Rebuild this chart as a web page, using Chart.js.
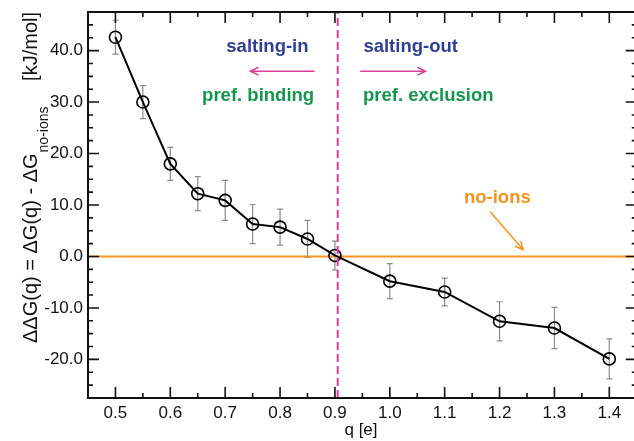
<!DOCTYPE html>
<html>
<head>
<meta charset="utf-8">
<script src="https://cdn.jsdelivr.net/npm/chart.js@4.4.0/dist/chart.umd.min.js"></script>
<style>
html, body { margin: 0; padding: 0; background: #fff; }
</style>
</head>
<body>
<canvas id="myChart" width="634" height="441"></canvas>
<script>
// charge q [e] and free energy difference [kJ/mol]
var charges = [0.5, 0.55, 0.6, 0.65, 0.7, 0.75, 0.8, 0.85, 0.9, 1.0, 1.1, 1.2, 1.3, 1.4];
var ddG = [42.6, 30.0, 18.0, 12.2, 10.9, 6.3, 5.7, 3.4, 0.2, -4.8, -6.9, -12.6, -13.9, -19.9];
var ddGErr = [3.3, 3.2, 3.2, 3.3, 3.9, 3.8, 3.5, 3.6, 2.8, 3.4, 2.7, 3.8, 4.0, 3.9];

var xTicks = [0.5, 0.6, 0.7, 0.8, 0.9, 1.0, 1.1, 1.2, 1.3, 1.4];
var yTicks = [-20, -10, 0, 10, 20, 30, 40];
var xRange = [0.45, 1.45];   // plot frame
var xView = [0.45, 1.445];   // part of the frame that fits in the picture
var yRange = [-27.5, 47.5];
var qCross = 0.905;

var FONT = '"Liberation Sans", Arial, sans-serif';
var BLUE = '#2f3f98', GREEN = '#13984b', PINK = '#de3c97', ORANGE = '#f7941d';

var errorBars = {
    id: 'errorBars',
    beforeDatasetsDraw: function (chart) {
        var x = chart.scales.x, y = chart.scales.y, c = chart.ctx;
        c.save();
        c.strokeStyle = '#8c8c8c';
        c.lineWidth = 1.2;
        charges.forEach(function (q, i) {
            var px = x.getPixelForValue(q);
            var top = y.getPixelForValue(ddG[i] + ddGErr[i]);
            var bot = y.getPixelForValue(ddG[i] - ddGErr[i]);
            c.beginPath();
            c.moveTo(px, top); c.lineTo(px, bot);
            c.moveTo(px - 3, top); c.lineTo(px + 3, top);
            c.moveTo(px - 3, bot); c.lineTo(px + 3, bot);
            c.stroke();
        });
        c.restore();
    }
};

function arrow(c, x1, y1, x2, y2, color) {
    var a = Math.atan2(y2 - y1, x2 - x1), h = 9, w = 0.45;
    c.strokeStyle = color;
    c.lineWidth = 1.5;
    c.beginPath();
    c.moveTo(x1, y1); c.lineTo(x2, y2);
    c.moveTo(x2 - h * Math.cos(a - w), y2 - h * Math.sin(a - w));
    c.lineTo(x2, y2);
    c.lineTo(x2 - h * Math.cos(a + w), y2 - h * Math.sin(a + w));
    c.stroke();
}

var notes = {
    id: 'notes',
    afterDatasetsDraw: function (chart) {
        var x = chart.scales.x, y = chart.scales.y, c = chart.ctx;
        function px(v) { return x.getPixelForValue(v); }
        function py(v) { return y.getPixelForValue(v); }
        c.save();
        c.font = 'bold 18.5px ' + FONT;
        c.textAlign = 'center';
        c.textBaseline = 'middle';
        c.fillStyle = BLUE;
        c.fillText('salting-in', px(0.777), py(40.8));
        c.fillText('salting-out', px(1.038), py(40.8));
        c.fillStyle = GREEN;
        c.fillText('pref. binding', px(0.760), py(31.2));
        c.fillText('pref. exclusion', px(1.070), py(31.2));
        c.fillStyle = ORANGE;
        c.fillText('no-ions', px(1.196), py(11.4));
        arrow(c, px(0.863), py(36.0), px(0.746), py(36.0), PINK);
        arrow(c, px(0.946), py(36.0), px(1.065), py(36.0), PINK);
        arrow(c, px(1.183), py(8.7), px(1.243), py(1.3), ORANGE);
        c.restore();
    }
};

var frame = {
    id: 'frame',
    afterDraw: function (chart) {
        var x = chart.scales.x, y = chart.scales.y, c = chart.ctx, a = chart.chartArea;
        var left = x.getPixelForValue(xRange[0]), right = x.getPixelForValue(xRange[1]);
        c.save();
        c.strokeStyle = '#111';
        c.lineWidth = 1.6;
        c.beginPath();
        xTicks.forEach(function (v) {
            var p = x.getPixelForValue(v);
            c.moveTo(p, a.bottom); c.lineTo(p, a.bottom - 11);
            c.moveTo(p, a.top); c.lineTo(p, a.top + 11);
            var m = x.getPixelForValue(v + 0.05);
            c.moveTo(m, a.bottom); c.lineTo(m, a.bottom - 5);
            c.moveTo(m, a.top); c.lineTo(m, a.top + 5);
        });
        for (var v = yRange[0] + 2.5; v < yRange[1]; v += 2.5) {
            var major = Math.abs(v % 10) < 0.01;
            var len = major ? 11 : 5;
            var p = y.getPixelForValue(v);
            c.moveTo(left, p); c.lineTo(left + len, p);
            c.moveTo(right, p); c.lineTo(right - len, p);
        }
        c.stroke();
        c.lineWidth = 2;
        c.strokeRect(left, a.top, right - left, a.bottom - a.top);

        // y axis title with subscript
        c.translate(37, 343);
        c.rotate(-Math.PI / 2);
        c.fillStyle = '#111';
        c.textBaseline = 'alphabetic';
        c.font = '20px ' + FONT;
        var t1 = '\u0394\u0394G(q) = \u0394G(q) - \u0394G';
        c.fillText(t1, 0, 0);
        var w1 = c.measureText(t1).width;
        c.font = '14px ' + FONT;
        c.fillText('no-ions', w1 + 1, 11);
        c.font = '20px ' + FONT;
        c.textAlign = 'right';
        c.fillText('[kJ/mol]', 331, 0);
        c.restore();
    }
};

var ctx = document.getElementById('myChart').getContext('2d');
var chart = new Chart(ctx, {
    type: 'line',
    data: {
        datasets: [{
            label: 'dashed',
            data: [{ x: qCross, y: yRange[0] }, { x: qCross, y: yRange[1] }],
            borderColor: PINK,
            borderWidth: 2,
            borderDash: [8, 4],
            pointRadius: 0,
            order: 0
        }, {
            label: 'ddG',
            data: charges.map(function (q, i) { return { x: q, y: ddG[i] }; }),
            borderColor: '#000',
            borderWidth: 2,
            pointRadius: 6,
            pointBorderWidth: 1.6,
            pointBorderColor: '#000',
            pointBackgroundColor: 'rgba(0,0,0,0)',
            tension: 0,
            order: 1
        }, {
            label: 'no-ions',
            data: [{ x: xRange[0], y: 0 }, { x: xRange[1], y: 0 }],
            borderColor: ORANGE,
            borderWidth: 2,
            pointRadius: 0,
            order: 2
        }]
    },
    options: {
        responsive: false,
        animation: false,
        events: [],
        layout: {
            autoPadding: false,
            padding: { left: 0, top: 12, right: 0, bottom: 0 }
        },
        plugins: {
            legend: { display: false },
            tooltip: { enabled: false }
        },
        scales: {
            x: {
                type: 'linear',
                min: xView[0],
                max: xView[1],
                afterBuildTicks: function (s) { s.ticks = xTicks.map(function (v) { return { value: v }; }); },
                afterFit: function (s) { s.height = 43; s.paddingLeft = 0; s.paddingRight = 0; },
                grid: { display: false, drawTicks: false },
                border: { display: false },
                ticks: {
                    color: '#111',
                    padding: 5,
                    maxRotation: 0,
                    font: { family: FONT, size: 17 },
                    callback: function (v) { return v.toFixed(1); }
                },
                title: {
                    display: true,
                    text: 'q [e]',
                    color: '#111',
                    padding: 0,
                    font: { family: FONT, size: 17 }
                }
            },
            y: {
                min: yRange[0],
                max: yRange[1],
                afterBuildTicks: function (s) { s.ticks = yTicks.map(function (v) { return { value: v }; }); },
                afterFit: function (s) { s.width = 88; s.paddingTop = 0; s.paddingBottom = 0; },
                grid: { display: false, drawTicks: false },
                border: { display: false },
                ticks: {
                    color: '#111',
                    padding: 5,
                    font: { family: FONT, size: 17 },
                    callback: function (v) { return v.toFixed(1); }
                }
            }
        }
    },
    plugins: [errorBars, notes, frame]
});
</script>
</body>
</html>
